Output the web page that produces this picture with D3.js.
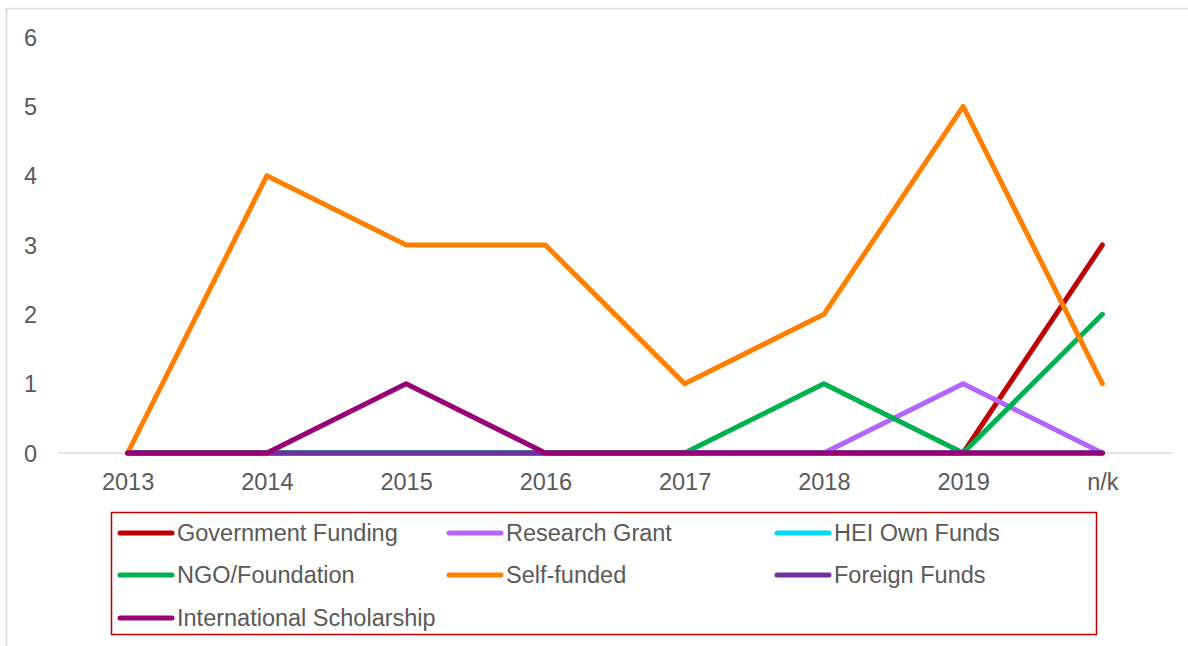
<!DOCTYPE html>
<html>
<head>
<meta charset="utf-8">
<script src="https://cdn.jsdelivr.net/npm/d3@7"></script>
<style>
  html, body { margin: 0; padding: 0; background: #fff; }
  svg { display: block; }
  text { font-family: "Liberation Sans", Arial, sans-serif; fill: #595959; }
</style>
</head>
<body>
<svg id="chart" width="1188" height="646"></svg>
<script>
const categories = ["2013", "2014", "2015", "2016", "2017", "2018", "2019", "n/k"];
const yTicks = [0, 1, 2, 3, 4, 5, 6];

const seriesNames = ["Government Funding", "Research Grant", "HEI Own Funds", "NGO/Foundation", "Self-funded", "Foreign Funds", "International Scholarship"];
const seriesColors = ["#c00000", "#b366ff", "#00d8ff", "#00b050", "#ff8000", "#7030a0", "#990077"];

const governmentFunding = [0, 0, 0, 0, 0, 0, 0, 3];
const researchGrant = [0, 0, 0, 0, 0, 0, 1, 0];
const heiOwnFunds = [0, 0, 0, 0, 0, 0, 0, 0];
const ngoFoundation = [0, 0, 0, 0, 0, 1, 0, 2];
const selfFunded = [0, 4, 3, 3, 1, 2, 5, 1];
const foreignFunds = [0, 0, 0, 0, 0, 0, 0, 0];
const internationalScholarship = [0, 0, 1, 0, 0, 0, 0, 0];

const seriesValues = [governmentFunding, researchGrant, heiOwnFunds, ngoFoundation, selfFunded, foreignFunds, internationalScholarship];

const FS = 23.5;
const svg = d3.select("#chart");

// outer chart border
svg.append("rect")
  .attr("x", 6.5).attr("y", 8.5)
  .attr("width", 1300).attr("height", 800)
  .attr("fill", "#fff")
  .attr("stroke", "#d9d9d9").attr("stroke-width", 1.5);

const plotLeft = 58, plotRight = 1172, plotTop = 37, plotBottom = 453;

const x = d3.scalePoint().domain(categories).range([plotLeft, plotRight]).padding(0.5);
const y = d3.scaleLinear().domain([0, 6]).range([plotBottom, plotTop]);

// baseline
svg.append("line")
  .attr("x1", plotLeft).attr("x2", plotRight)
  .attr("y1", y(0)).attr("y2", y(0))
  .attr("stroke", "#d9d9d9").attr("stroke-width", 1.5);

// y axis labels
const yAxis = d3.axisLeft(y).tickValues(yTicks).tickFormat(d3.format("d")).tickSize(0).tickPadding(0);
const gy = svg.append("g").attr("transform", `translate(37,0)`).call(yAxis);
gy.select(".domain").remove();
gy.selectAll("text")
  .attr("font-size", FS).attr("text-anchor", "end")
  .style("font-family", '"Liberation Sans", Arial, sans-serif')
  .attr("fill", "#595959").attr("dy", "0.35em");

// x axis labels
const xAxis = d3.axisBottom(x).tickSize(0).tickPadding(0);
const gx = svg.append("g").attr("transform", `translate(0,${plotBottom + 37})`).call(xAxis);
gx.select(".domain").remove();
gx.selectAll("text")
  .attr("font-size", FS).attr("dy", "0")
  .style("font-family", '"Liberation Sans", Arial, sans-serif')
  .attr("fill", "#595959");

// lines
const line = d3.line().x((d, i) => x(categories[i])).y(d => y(d));
seriesValues.forEach((vals, si) => {
  svg.append("path")
    .datum(vals)
    .attr("d", line)
    .attr("fill", "none")
    .attr("stroke", seriesColors[si])
    .attr("stroke-width", 5)
    .attr("stroke-linecap", "round")
    .attr("stroke-linejoin", "round");
});

// legend
const legX = 111, legY = 512, legW = 985, legH = 122;
svg.append("rect")
  .attr("x", legX + 0.5).attr("y", legY + 0.5)
  .attr("width", legW).attr("height", legH)
  .attr("fill", "none").attr("stroke", "#c00000").attr("stroke-width", 1.5);

const colX = [118, 447, 775];
const rowY = [533, 575, 618];
seriesNames.forEach((name, i) => {
  const cx = colX[i % 3], cy = rowY[Math.floor(i / 3)];
  const g = svg.append("g");
  g.append("line")
    .attr("x1", cx + 2).attr("x2", cx + 54)
    .attr("y1", cy).attr("y2", cy)
    .attr("stroke", seriesColors[i]).attr("stroke-width", 5)
    .attr("stroke-linecap", "round");
  g.append("text")
    .attr("x", cx + 59).attr("y", cy)
    .attr("dy", "0.35em")
    .attr("font-size", FS)
    .text(name);
});
</script>
</body>
</html>
